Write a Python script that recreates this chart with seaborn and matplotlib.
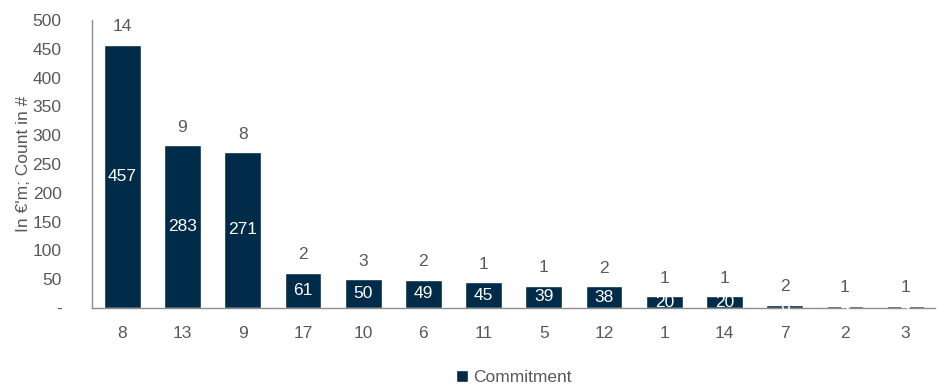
import matplotlib
matplotlib.use("Agg")
import matplotlib.pyplot as plt
import seaborn as sns
import pandas as pd

# data
categories = ["8", "13", "9", "17", "10", "6", "11", "5", "12", "1", "14", "7", "2", "3"]
commitment = [457, 283, 271, 61, 50, 49, 45, 39, 38, 20, 20, 6, 4, 4]
counts = [14, 9, 8, 2, 3, 2, 1, 1, 2, 1, 1, 2, 1, 1]

navy = "#002B49"
grey = "#595959"
fs = 12.5

sns.set_theme(style="white")
plt.rcParams["font.family"] = ["Liberation Sans", "DejaVu Sans"]

df = pd.DataFrame({"cat": categories, "Commitment": commitment})

fig = plt.figure(figsize=(9.4, 3.85), dpi=100)
ax = fig.add_axes([0.098, 0.2, 0.897, 0.748])
sns.barplot(data=df, x="cat", y="Commitment", color=navy, width=0.61,
            saturation=1, ax=ax, label="Commitment")

for i, (v, c) in enumerate(zip(commitment, counts)):
    ax.text(i, v / 2, str(v), ha="center", va="center", color="white", fontsize=fs)
    ax.text(i, v + 18, str(c), ha="center", va="bottom", color=grey, fontsize=fs)

ax.set_ylim(0, 500)
ax.set_xlim(-0.5, len(categories) - 0.5)
ax.set_yticks(range(0, 501, 50))
ax.set_yticklabels(["-"] + [str(t) for t in range(50, 501, 50)])
ax.tick_params(axis="both", colors=grey, labelsize=fs, length=0)
ax.tick_params(axis="x", pad=13)
ax.tick_params(axis="y", pad=22)
ax.set_xlabel("")
ax.set_ylabel("In €'m; Count in #", color=grey, fontsize=fs, labelpad=1)
for s in ["top", "right"]:
    ax.spines[s].set_visible(False)
for s in ["left", "bottom"]:
    ax.spines[s].set_color("#8c8c8c")
    ax.spines[s].set_linewidth(1)

leg = ax.legend(loc="center", bbox_to_anchor=(0.5, -0.24), frameon=False,
                fontsize=fs, handlelength=0.7, handleheight=0.7, handletextpad=0.3,
                borderpad=0)
for t in leg.get_texts():
    t.set_color(grey)

fig.savefig("out.png", dpi=100)
